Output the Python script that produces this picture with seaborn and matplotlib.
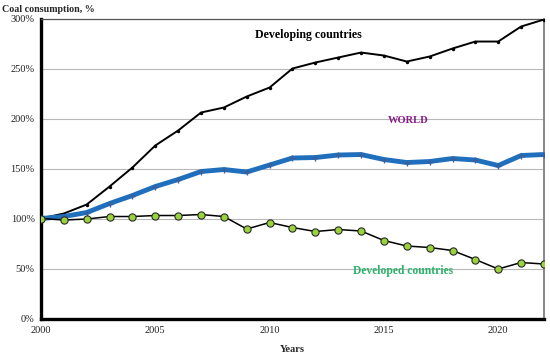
import pandas as pd
import seaborn as sns
import matplotlib.pyplot as plt
from matplotlib.ticker import MultipleLocator, PercentFormatter

years = list(range(2000, 2023))
developing = [100, 105, 114, 132, 151, 173, 188, 206, 211, 222, 231, 250, 256, 261, 266, 263,
              257, 262, 270, 277, 277, 292, 299]
world = [100, 102, 106, 115, 123, 132, 139, 147, 149, 146.5, 153.5, 160.5, 161, 163.5, 164, 159,
         156, 157, 160, 158.5, 153, 163, 164]
developed = [100, 98.5, 99.5, 102, 102, 103, 103, 104, 102, 89.5, 96, 91, 87, 89, 87.5, 78,
             72.5, 71, 68, 59, 49.5, 56, 54.5]

df = pd.DataFrame({"year": years, "developing": developing, "world": world, "developed": developed})

sns.set_style("white")
plt.rcParams["font.family"] = ["Liberation Serif", "DejaVu Serif"]

fig = plt.figure(figsize=(5.5, 3.55), dpi=100)
ax = fig.add_axes([0.0745, 0.1028, 0.9145, 0.845])

sns.lineplot(data=df, x="year", y="developing", ax=ax, color="black", lw=1.4,
             marker="o", markersize=2.5, markeredgewidth=0, zorder=3)
sns.lineplot(data=df, x="year", y="world", ax=ax, color="#1f6fbd", lw=3.5,
             marker="+", markersize=4, markeredgecolor="#3a5f9a", markeredgewidth=1, zorder=4)
sns.lineplot(data=df, x="year", y="developed", ax=ax, color="black", lw=1.1,
             marker="o", markersize=5.2, markerfacecolor="#9ad23c", markeredgecolor="#2a2a2a",
             markeredgewidth=0.8, zorder=5)

ax.set_xlim(2000, 2022)
ax.set_ylim(0, 300)
ax.yaxis.set_major_locator(MultipleLocator(50))
ax.yaxis.set_major_formatter(PercentFormatter(decimals=0))
ax.xaxis.set_major_locator(MultipleLocator(5))
ax.xaxis.set_minor_locator(MultipleLocator(1))
ax.grid(axis="y", color="#b8b8b8", lw=0.8)
ax.set_axisbelow(True)

for side in ["left", "bottom"]:
    ax.spines[side].set_color("black")
    ax.spines[side].set_linewidth(2.4)
ax.spines["top"].set_color("#555555")
ax.spines["top"].set_linewidth(0.9)
ax.spines["right"].set_color("#888888")
ax.spines["right"].set_linewidth(1.4)

ax.tick_params(axis="both", which="both", direction="out", length=2.5, width=2, color="black",
               labelsize=7.5, labelcolor="#222222", pad=2)
ax.tick_params(axis="x", which="major", pad=3)

ax.set_xlabel("Years", fontsize=7.5, fontweight="bold", labelpad=7)
ax.set_ylabel("")
fig.text(0.004, 0.985, "Coal consumption, %", fontsize=7.2, fontweight="bold", va="top", ha="left")

ax.text(2011.7, 283.5, "Developing countries", fontsize=8.6, fontweight="bold", ha="center",
        va="center", color="black")
ax.text(2016.05, 198.5, "WORLD", fontsize=7.6, fontweight="bold", ha="center", va="center",
        color="#8a1a8a")
ax.text(2015.85, 47.5, "Developed countries", fontsize=8.4, fontweight="bold", ha="center",
        va="center", color="#2cb36a")

fig.savefig("out.png", dpi=100)
